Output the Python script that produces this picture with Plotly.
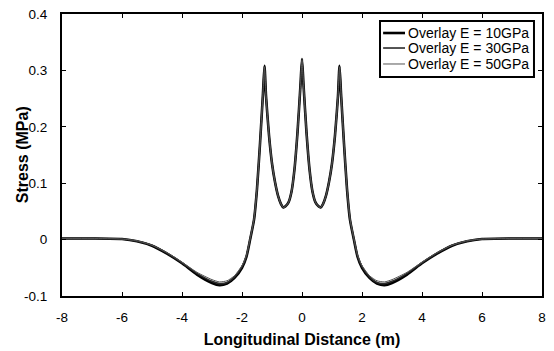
import plotly.graph_objects as go

# Longitudinal positions (m)
distance = [-8, -7, -6, -5.5, -5, -4.5, -4, -3.5, -3, -2.75, -2.5, -2.25, -2.0, -1.85,
            -1.73, -1.6, -1.5, -1.4, -1.3, -1.25, -1.2, -1.1, -1.0, -0.9, -0.8, -0.7,
            -0.62, -0.55, -0.45, -0.35, -0.25, -0.15, -0.05, 0,
            0.05, 0.15, 0.25, 0.35, 0.45, 0.55, 0.62, 0.7, 0.8, 0.9, 1.0, 1.1, 1.2,
            1.25, 1.3, 1.4, 1.5, 1.6, 1.73, 1.85, 2.0, 2.25, 2.5, 2.75, 3, 3.5, 4,
            4.5, 5, 5.5, 6, 7, 8]

# Stress (MPa) for each overlay modulus
stress_10 = [0.002, 0.002, 0.001, -0.003, -0.011, -0.025, -0.042, -0.062, -0.077, -0.081,
             -0.078, -0.068, -0.050, -0.030, 0.000, 0.035, 0.090, 0.170, 0.260, 0.308,
             0.255, 0.185, 0.135, 0.102, 0.078, 0.063, 0.057, 0.059, 0.066, 0.085,
             0.125, 0.190, 0.275, 0.320,
             0.275, 0.190, 0.125, 0.085, 0.066, 0.059, 0.057, 0.063, 0.078, 0.102,
             0.135, 0.185, 0.255, 0.308, 0.260, 0.170, 0.090, 0.035, 0.000, -0.030,
             -0.050, -0.068, -0.078, -0.081, -0.077, -0.062, -0.042, -0.025, -0.011,
             -0.003, 0.001, 0.002, 0.002]

stress_30 = [0.002, 0.002, 0.001, -0.003, -0.010, -0.024, -0.041, -0.060, -0.074, -0.078,
             -0.076, -0.066, -0.048, -0.029, 0.001, 0.036, 0.090, 0.170, 0.260, 0.307,
             0.255, 0.185, 0.135, 0.102, 0.078, 0.063, 0.057, 0.059, 0.066, 0.085,
             0.125, 0.190, 0.275, 0.319,
             0.275, 0.190, 0.125, 0.085, 0.066, 0.059, 0.057, 0.063, 0.078, 0.102,
             0.135, 0.185, 0.255, 0.307, 0.260, 0.170, 0.090, 0.036, 0.001, -0.029,
             -0.048, -0.066, -0.076, -0.078, -0.074, -0.060, -0.041, -0.024, -0.010,
             -0.003, 0.001, 0.002, 0.002]

stress_50 = [0.002, 0.002, 0.001, -0.002, -0.010, -0.023, -0.040, -0.058, -0.071, -0.075,
             -0.073, -0.064, -0.046, -0.027, 0.002, 0.037, 0.091, 0.170, 0.260, 0.306,
             0.255, 0.185, 0.135, 0.102, 0.078, 0.063, 0.057, 0.059, 0.066, 0.085,
             0.125, 0.190, 0.275, 0.318,
             0.275, 0.190, 0.125, 0.085, 0.066, 0.059, 0.057, 0.063, 0.078, 0.102,
             0.135, 0.185, 0.255, 0.306, 0.260, 0.170, 0.091, 0.037, 0.002, -0.027,
             -0.046, -0.064, -0.073, -0.075, -0.071, -0.058, -0.040, -0.023, -0.010,
             -0.002, 0.001, 0.002, 0.002]

series_names = ["Overlay E = 10GPa", "Overlay E = 30GPa", "Overlay E = 50GPa"]

x_ticks = [-8, -6, -4, -2, 0, 2, 4, 6, 8]
x_tick_text = ["-8", "-6", "-4", "-2", "0", "2", "4", "6", "8"]
y_ticks = [-0.1, 0, 0.1, 0.2, 0.3, 0.4]
y_tick_text = ["-0.1", "0", "0.1", "0.2", "0.3", "0.4"]

FONT = "Liberation Sans, Arial, sans-serif"

styles = [
    dict(color="#000000", width=2.6),
    dict(color="#2a2a2a", width=1.6),
    dict(color="#555555", width=1.0),
]

fig = go.Figure()
for name, ys, st in zip(series_names, [stress_10, stress_30, stress_50], styles):
    fig.add_trace(go.Scatter(
        x=distance, y=ys, name=name, mode="lines", showlegend=False,
        line=dict(color=st["color"], width=st["width"], shape="spline", smoothing=0.6),
    ))

# Boxed key in the upper-right corner (paper coordinates)
key_left, key_right, key_top, key_bottom = 0.6625, 0.9833, 0.975, 0.7766
key_rows = [0.9326, 0.8794, 0.8227]
fig.add_shape(type="rect", xref="paper", yref="paper",
              x0=key_left, x1=key_right, y0=key_bottom, y1=key_top,
              line=dict(color="black", width=2), fillcolor="white", layer="above")
for name, st, ry in zip(series_names, styles, key_rows):
    fig.add_shape(type="line", xref="paper", yref="paper",
                  x0=0.669, x1=0.7146, y0=ry, y1=ry,
                  line=dict(color=st["color"], width=st["width"]), layer="above")
    fig.add_annotation(text=name, xref="paper", yref="paper", x=0.716, y=ry,
                       xanchor="left", yanchor="middle", showarrow=False,
                       font=dict(family=FONT, size=14, color="black"))

# Vertical axis title
fig.add_annotation(text="<b>Stress (MPa)</b>", xref="paper", yref="paper",
                   x=-0.083, y=0.5, xanchor="center", yanchor="middle",
                   textangle=-90, showarrow=False,
                   font=dict(family=FONT, size=16, color="black"))

axis_common = dict(
    showline=True, linecolor="black", linewidth=2, mirror="ticks",
    ticks="inside", ticklen=4, tickwidth=1, tickcolor="black",
    showgrid=False, zeroline=False, automargin=False,
    tickfont=dict(family=FONT, size=13.5, color="black"),
)

fig.update_layout(
    width=554, height=351,
    margin=dict(l=62, r=12, t=14, b=55),
    paper_bgcolor="white", plot_bgcolor="white",
    showlegend=False,
    xaxis=dict(
        range=[-8, 8], tickvals=x_ticks, ticktext=x_tick_text,
        ticklabelstandoff=8,
        title=dict(text="<b>Longitudinal Distance (m)</b>",
                   font=dict(family=FONT, size=16, color="black"), standoff=10),
        **axis_common,
    ),
    yaxis=dict(
        range=[-0.1, 0.4], tickvals=y_ticks, ticktext=y_tick_text,
        ticklabelstandoff=10,
        **axis_common,
    ),
)

fig.write_html("out.html")
